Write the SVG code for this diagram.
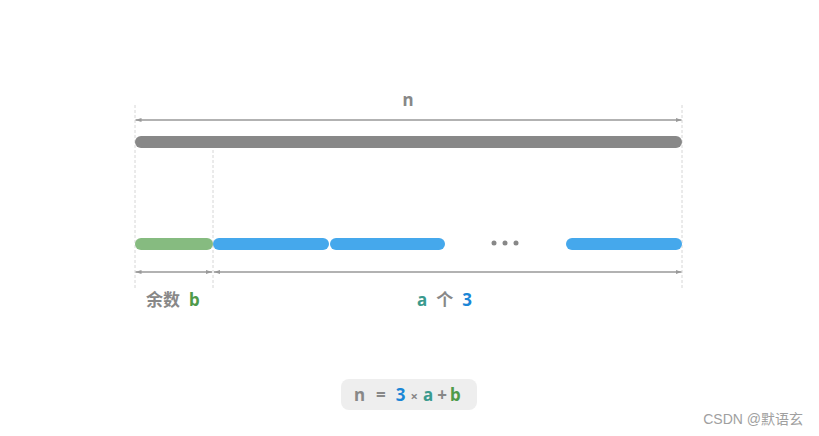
<svg xmlns="http://www.w3.org/2000/svg" width="819" height="436" viewBox="0 0 819 436">
<style>
.t{font-family:"Noto Sans","Noto Sans CJK SC",sans-serif;font-weight:bold;font-size:17px}
.g{fill:#888888}
.vl{stroke:#d6d6d6;stroke-width:1;stroke-dasharray:3 2}
.ar{stroke:#999999;stroke-width:1.5;fill:none}
.bar{stroke-width:12;stroke-linecap:round}
</style>
<defs>
<marker id="ah" viewBox="0 0 10 10" refX="10" refY="5" markerWidth="6" markerHeight="6" orient="auto-start-reverse" markerUnits="userSpaceOnUse">
<path d="M0,1.5L10,5L0,8.5z" fill="#999999"/>
</marker>
</defs>
<rect width="819" height="436" fill="#ffffff"/>
<g id="guides">
<line class="vl" x1="135" y1="105" x2="135" y2="290"/>
<line class="vl" x1="682" y1="105" x2="682" y2="290"/>
<line class="vl" x1="213" y1="150" x2="213" y2="290"/>
</g>
<g id="connectors">
<line class="ar" x1="135.5" y1="120" x2="681.5" y2="120" marker-start="url(#ah)" marker-end="url(#ah)"/>
<line class="ar" x1="135.5" y1="272" x2="212" y2="272" marker-start="url(#ah)" marker-end="url(#ah)"/>
<line class="ar" x1="214" y1="272" x2="681.5" y2="272" marker-start="url(#ah)" marker-end="url(#ah)"/>
</g>
<g id="bar-n"><line class="bar" x1="141" y1="142" x2="676" y2="142" stroke="#888888"/></g>
<g id="bar-b"><line class="bar" x1="141" y1="244" x2="207" y2="244" stroke="#86bb80"/></g>
<g id="bar-3a"><line class="bar" x1="219" y1="244" x2="323" y2="244" stroke="#45a8ec"/></g>
<g id="bar-3b"><line class="bar" x1="336" y1="244" x2="439" y2="244" stroke="#45a8ec"/></g>
<g id="bar-3c"><line class="bar" x1="572" y1="244" x2="676" y2="244" stroke="#45a8ec"/></g>
<g id="dots" fill="#888888">
<circle cx="494" cy="243" r="2.5"/><circle cx="505" cy="243" r="2.5"/><circle cx="516" cy="243" r="2.5"/>
</g>
<g id="label-n"><text class="t g" x="408" y="106" text-anchor="middle">n</text></g>
<g id="label-b"><text class="t" x="146" y="306"><tspan class="g">余数</tspan><tspan fill="#4f9a4a" dx="9">b</tspan></text></g>
<g id="label-a3"><text class="t" x="417" y="306"><tspan fill="#3a9a8e">a</tspan><tspan class="g" dx="9">个</tspan><tspan fill="#1b86d6" dx="9">3</tspan></text></g>
<g id="formula">
<rect x="341" y="379" width="136" height="31" rx="8" fill="#eeeeee"/>
<text class="t" x="354" y="401"><tspan class="g">n</tspan><tspan class="g" dx="11">=</tspan><tspan fill="#1b86d6" dx="10">3</tspan><tspan class="g" dx="5" font-size="13">×</tspan><tspan fill="#3a9a8e" dx="5">a</tspan><tspan class="g" dx="4">+</tspan><tspan fill="#4f9a4a" dx="3">b</tspan></text>
</g>
<text x="803" y="424" text-anchor="end" font-family="'Liberation Sans','Noto Sans CJK SC',sans-serif" font-size="14" fill="#a0a0a0">CSDN @默语玄</text>
</svg>
